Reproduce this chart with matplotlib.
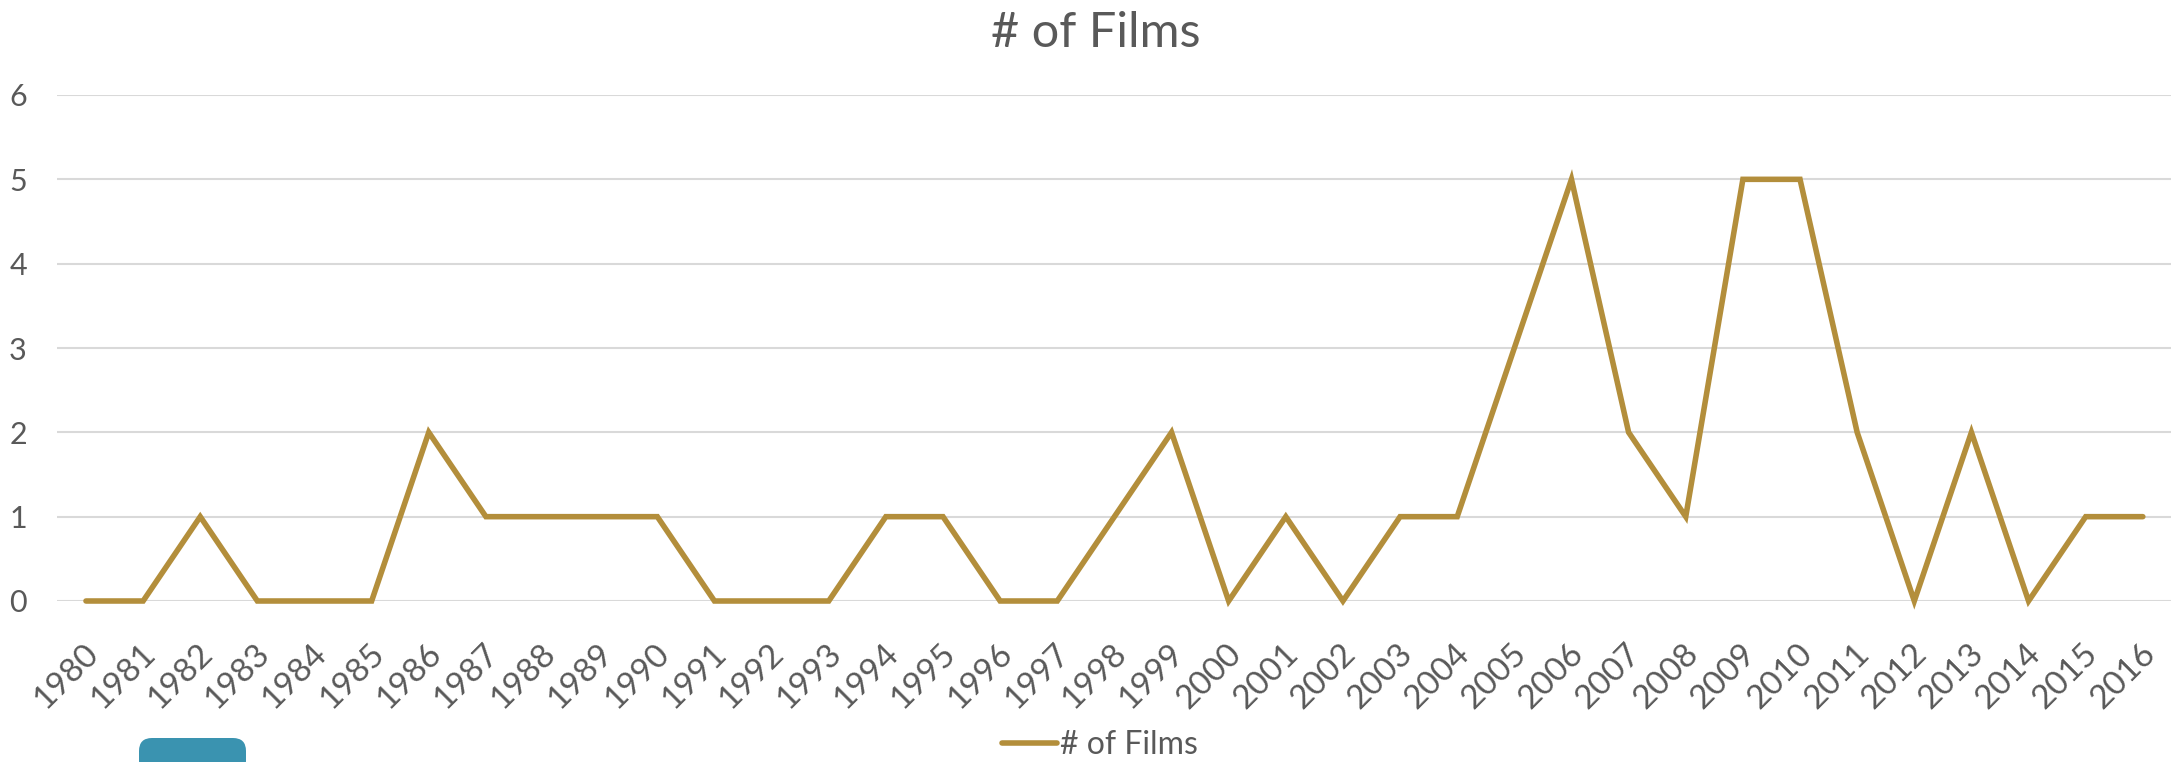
import matplotlib.pyplot as plt
import matplotlib.transforms as mtransforms
from matplotlib.patches import FancyBboxPatch

years = [str(y) for y in range(1980, 2017)]
films = [0, 0, 1, 0, 0, 0, 2, 1, 1, 1, 1, 0, 0, 0, 1, 1, 0, 0, 1, 2,
         0, 1, 0, 1, 1, 3, 5, 2, 1, 5, 5, 2, 0, 2, 0, 1, 1]
y_ticks = [0, 1, 2, 3, 4, 5, 6]

line_color = '#B38E3B'
text_color = '#595959'
grid_color = '#D9D9D9'

plt.rcParams['font.family'] = ['Lato', 'DejaVu Sans']

W, H = 2175, 762
fig = plt.figure(figsize=(W / 100, H / 100), dpi=100)
ax = fig.add_axes([57.4 / W, 1 - 601 / H, 2114 / W, 506 / H])

x = list(range(len(years)))
ax.plot(x, films, color=line_color, linewidth=4, solid_capstyle='round',
        solid_joinstyle='miter', clip_on=False, label='# of Films', zorder=3)

ax.set_xlim(-0.5, len(years) - 0.5)
ax.set_ylim(0, 6)
ax.set_yticks(y_ticks)
ax.set_xticks(x)
ax.set_xticklabels(years, rotation=45, ha='right', va='top', rotation_mode='anchor')

for s in ax.spines.values():
    s.set_visible(False)
ax.grid(axis='y', color=grid_color, linewidth=1.5)
ax.set_axisbelow(True)
ax.tick_params(axis='y', length=0, colors=text_color, labelsize=22, pad=22)
ax.tick_params(axis='x', length=0, colors=text_color, labelsize=24, pad=27)

# move the rotated year labels so their ends sit just right of the tick
shift = mtransforms.ScaledTranslation(-3 / 100, 0, fig.dpi_scale_trans)
for lab in ax.get_xticklabels():
    lab.set_transform(lab.get_transform() + shift)

fig.text(1096 / W, 1 - 33 / H, '# of Films', ha='center', va='center',
         fontsize=35, color=text_color)

fig.legend(loc='center', bbox_to_anchor=(1100 / W, 1 - 745 / H), frameon=False,
           fontsize=23, handlelength=1.7, handletextpad=0.1, labelcolor=text_color)

# teal blob at bottom left (pixel coordinates)
fig.patches.append(FancyBboxPatch((139, -12), 107, 36,
                                  boxstyle='round,pad=0,rounding_size=13',
                                  transform=mtransforms.IdentityTransform(),
                                  facecolor='#3A93B0', edgecolor='none'))

fig.savefig('out.png', dpi=100)
